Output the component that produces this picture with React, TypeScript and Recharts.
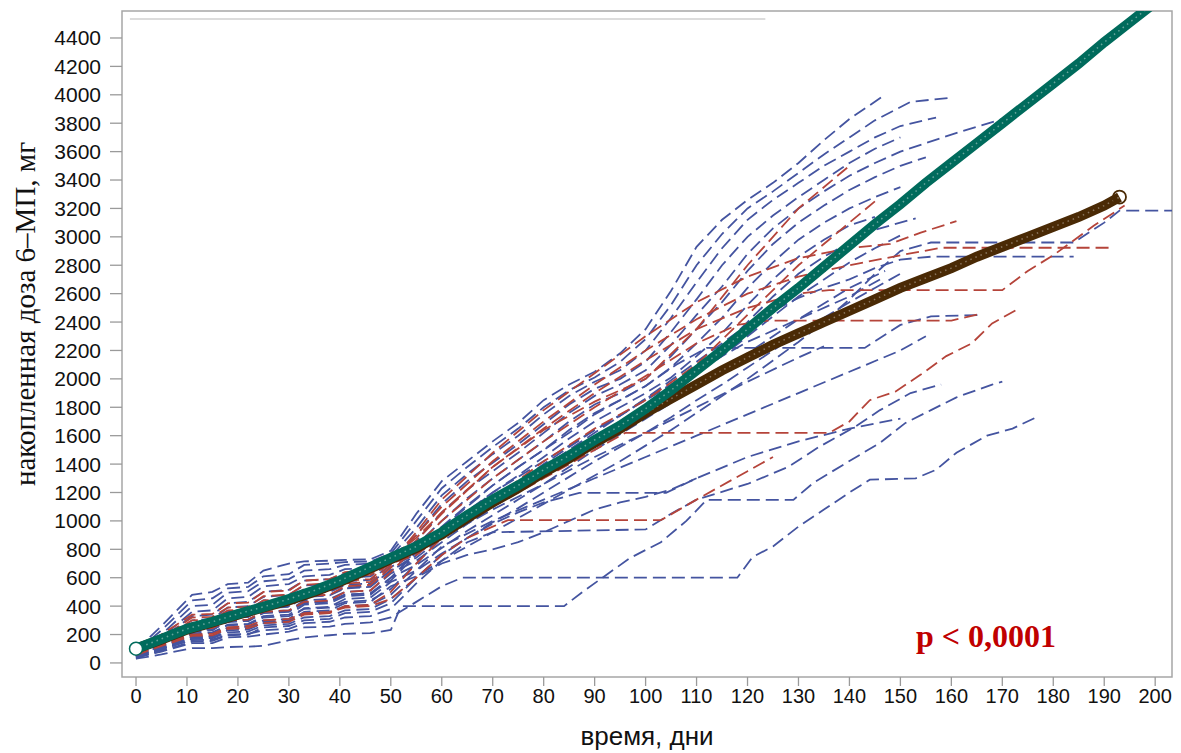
import React from 'react';
import { LineChart, Line, XAxis, YAxis, ReferenceArea, ReferenceLine, Label } from 'recharts';

type Pt = [number, number];

const xTicks = [0, 10, 20, 30, 40, 50, 60, 70, 80, 90, 100, 110, 120, 130, 140, 150, 160, 170, 180, 190, 200];
const yTicks = [0, 200, 400, 600, 800, 1000, 1200, 1400, 1600, 1800, 2000, 2200, 2400, 2600, 2800, 3000, 3200, 3400, 3600, 3800, 4000, 4200, 4400];

// mean curves
const tealMean: Pt[] = [[0,100],[5,170],[10,240],[15,290],[20,345],[25,395],[30,450],[35,510],[40,580],[45,660],[50,740],[55,820],[60,920],[65,1040],[70,1150],[75,1250],[80,1360],[85,1460],[90,1570],[95,1670],[100,1790],[105,1920],[110,2060],[115,2200],[120,2350],[125,2500],[130,2640],[135,2790],[140,2940],[145,3090],[150,3230],[155,3380],[160,3520],[165,3660],[170,3800],[175,3940],[180,4080],[185,4220],[190,4370],[195,4510],[200,4650]];
const brownMean: Pt[] = [[0,100],[5,165],[10,235],[15,285],[20,340],[25,390],[30,440],[35,500],[40,570],[45,650],[50,730],[55,810],[60,905],[65,1020],[70,1130],[75,1230],[80,1340],[85,1440],[90,1550],[95,1650],[100,1760],[105,1860],[110,1960],[115,2060],[120,2150],[125,2240],[130,2320],[135,2400],[140,2480],[145,2560],[150,2640],[155,2710],[160,2780],[165,2860],[170,2930],[175,3000],[180,3070],[185,3140],[190,3220],[193,3280]];

// individual patients (blue)
const b01: Pt[] = [[0,90],[5,260],[11,480],[15,500],[18,555],[22,565],[25,650],[30,700],[33,715],[38,720],[41,725],[46,730],[50,790],[55,1050],[60,1280],[65,1420],[70,1560],[75,1690],[80,1850],[85,1960],[90,2050],[95,2180],[100,2350],[105,2620],[110,2930],[115,3120],[120,3260],[125,3380],[130,3520],[135,3680],[140,3830],[147,4000]];
const b02: Pt[] = [[0,80],[5,230],[11,440],[15,455],[18,525],[22,535],[25,610],[30,625],[33,690],[38,700],[41,710],[46,715],[50,770],[55,1000],[60,1230],[65,1380],[70,1520],[75,1650],[80,1800],[85,1920],[90,2010],[95,2120],[100,2280],[105,2520],[110,2800],[115,3020],[120,3200],[125,3320],[130,3450],[135,3580],[140,3700],[145,3820],[152,3950],[160,3980]];
const b03: Pt[] = [[0,70],[5,200],[11,400],[15,410],[18,495],[22,505],[25,575],[30,590],[33,650],[38,660],[41,690],[46,700],[50,750],[55,950],[60,1180],[65,1330],[70,1470],[75,1600],[80,1750],[85,1880],[90,1980],[95,2060],[100,2200],[105,2430],[110,2680],[115,2920],[120,3120],[125,3260],[130,3380],[135,3500],[140,3600],[145,3700],[150,3780],[157,3840]];
const b04: Pt[] = [[0,60],[5,180],[11,360],[15,370],[18,455],[22,465],[25,540],[30,555],[33,610],[38,620],[41,660],[46,670],[50,735],[55,900],[60,1120],[65,1280],[70,1410],[75,1540],[80,1680],[85,1820],[90,1930],[95,2000],[100,2120],[105,2330],[110,2560],[115,2800],[120,3000],[125,3150],[130,3280],[135,3400],[140,3520],[145,3620],[150,3700]];
const b05: Pt[] = [[0,55],[5,170],[11,330],[15,340],[18,420],[22,430],[25,500],[30,515],[33,580],[38,590],[41,630],[46,640],[50,720],[55,860],[60,1060],[65,1220],[70,1350],[75,1480],[80,1620],[85,1760],[90,1880],[95,1960],[100,2060],[105,2240],[110,2450],[115,2650],[120,2880],[125,3060],[130,3200],[135,3320],[140,3430],[145,3520],[150,3600],[160,3720],[171,3840]];
const b06: Pt[] = [[0,45],[5,155],[11,300],[15,310],[18,390],[22,400],[25,465],[30,480],[33,545],[38,555],[41,600],[46,610],[50,705],[55,830],[60,1000],[65,1160],[70,1300],[75,1430],[80,1560],[85,1700],[90,1820],[95,1900],[100,2000],[105,2160],[110,2350],[115,2540],[120,2760],[125,2950],[130,3100],[135,3220],[140,3330],[145,3420],[150,3500],[155,3560]];
const b07: Pt[] = [[0,40],[5,145],[11,280],[15,290],[18,360],[22,370],[25,440],[30,450],[33,515],[38,525],[41,575],[46,585],[50,690],[55,800],[60,960],[65,1110],[70,1250],[75,1380],[80,1500],[85,1640],[90,1760],[95,1850],[100,1950],[105,2080],[110,2250],[115,2430],[120,2640],[125,2820],[130,2980],[135,3100],[140,3200],[145,3280],[150,3350]];
const b08: Pt[] = [[0,100],[5,140],[11,260],[15,270],[18,335],[22,345],[25,410],[30,420],[33,490],[38,500],[41,550],[46,560],[50,675],[55,770],[60,920],[65,1060],[70,1200],[75,1320],[80,1450],[85,1580],[90,1700],[95,1800],[100,1900],[105,2010],[110,2160],[115,2320],[120,2520],[125,2700],[130,2860],[135,2980],[140,3080],[145,3140]];
const b09: Pt[] = [[0,30],[5,130],[11,240],[15,250],[18,315],[22,325],[25,385],[30,395],[33,465],[38,475],[41,525],[46,535],[50,655],[55,740],[60,880],[65,1020],[70,1150],[75,1270],[80,1400],[85,1520],[90,1640],[95,1740],[100,1860],[105,1960],[110,2080],[115,2220],[120,2400],[125,2580],[130,2740],[135,2860],[140,2960],[145,3050],[153,3130]];
const b10: Pt[] = [[0,60],[5,120],[11,220],[15,230],[18,300],[22,305],[25,360],[30,370],[33,440],[38,450],[41,500],[46,510],[50,630],[55,720],[60,850],[65,980],[70,1100],[75,1210],[80,1320],[85,1440],[90,1560],[95,1680],[100,1800],[105,1920],[110,2040],[115,2160],[120,2300],[125,2440],[130,2580],[135,2700],[140,2820],[145,2920],[150,3010]];
const b11: Pt[] = [[0,50],[5,110],[11,200],[15,210],[18,270],[22,275],[25,330],[30,340],[33,410],[38,420],[41,470],[46,480],[50,600],[55,690],[60,810],[65,930],[70,1040],[75,1150],[80,1260],[85,1380],[90,1500],[95,1610],[100,1720],[105,1830],[110,1950],[115,2060],[120,2180],[125,2300],[130,2420],[135,2530],[140,2640],[147,2760]];
const b12: Pt[] = [[0,45],[5,100],[11,180],[15,185],[18,250],[22,255],[25,300],[30,310],[33,385],[38,395],[41,450],[46,460],[50,570],[55,650],[60,770],[65,880],[70,990],[75,1090],[80,1200],[85,1310],[90,1420],[95,1520],[100,1620],[105,1730],[110,1850],[115,1960],[120,2080],[125,2200],[130,2320],[135,2430],[140,2540],[145,2640],[150,2740]];
const b13: Pt[] = [[0,35],[5,90],[11,170],[15,175],[18,230],[22,235],[25,280],[30,290],[33,360],[38,370],[41,420],[46,430],[50,540],[55,610],[60,720],[65,820],[70,920],[75,1020],[80,1120],[85,1220],[90,1320],[95,1420],[100,1530],[105,1640],[110,1760],[115,1880],[120,2000],[125,2130],[130,2260],[135,2400],[140,2560],[145,2740],[150,2900],[156,2960],[184,2960],[190,3100],[193,3185],[206,3185]];
const b14: Pt[] = [[0,65],[5,150],[11,250],[15,255],[18,320],[22,325],[25,390],[30,400],[33,470],[38,480],[41,530],[46,540],[50,650],[55,760],[60,900],[65,1020],[70,1140],[75,1260],[80,1380],[85,1500],[90,1620],[95,1740],[100,1860],[105,1990],[110,2120],[115,2250],[120,2380],[125,2480],[130,2570],[135,2640],[140,2700],[145,2780],[150,2840],[156,2860],[184,2860]];
const b15: Pt[] = [[0,30],[5,60],[11,105],[15,105],[18,112],[22,115],[25,120],[30,160],[33,180],[38,195],[41,205],[46,210],[50,232],[52,400],[84,400],[88,510],[97,740],[103,850],[108,1000],[112,1148],[129,1148],[133,1270],[139,1400],[146,1550],[151,1690],[156,1780],[161,1870],[168,1960],[170,1980]];
const b16: Pt[] = [[0,40],[5,80],[11,140],[15,140],[18,180],[22,185],[25,200],[30,220],[33,250],[38,255],[41,275],[46,285],[50,320],[55,430],[60,540],[64,600],[118,600],[121,746],[125,820],[130,960],[135,1080],[140,1200],[144,1290],[153,1300],[157,1360],[161,1480],[167,1600],[172,1650],[177,1735]];
const b17: Pt[] = [[0,50],[5,100],[11,160],[15,165],[18,200],[22,205],[25,230],[30,240],[33,280],[38,290],[41,320],[46,330],[50,380],[55,560],[60,720],[65,850],[70,920],[100,940],[105,1050],[110,1150],[120,1260],[128,1380],[134,1520],[141,1660],[146,1780],[152,1900],[158,1960]];
const b18: Pt[] = [[0,55],[5,130],[11,230],[15,235],[18,290],[22,295],[25,350],[30,360],[33,420],[38,430],[41,480],[46,490],[50,600],[55,780],[60,950],[65,1100],[70,1250],[75,1380],[80,1500],[85,1620],[90,1750],[95,1850],[100,1950],[106,2100],[112,2218],[143,2218],[150,2380],[156,2440],[166,2450]];
const b19: Pt[] = [[0,35],[5,85],[11,150],[15,155],[18,195],[22,200],[25,250],[30,260],[33,300],[38,310],[41,350],[46,360],[50,420],[55,600],[60,760],[65,880],[70,980],[75,1060],[80,1130],[87,1197],[104,1197],[110,1300],[120,1450],[130,1560],[140,1650],[150,1720]];
const b20: Pt[] = [[0,40],[5,95],[11,170],[15,175],[18,215],[22,220],[25,265],[30,275],[33,320],[38,330],[41,370],[46,380],[50,450],[55,600],[60,700],[65,760],[70,800],[75,850],[80,920],[85,1000],[90,1080],[95,1130],[100,1170],[105,1220],[110,1300]];
const b21: Pt[] = [[0,45],[5,105],[11,185],[15,190],[18,240],[22,245],[25,290],[30,300],[33,350],[38,360],[41,400],[46,410],[50,480],[55,650],[60,820],[70,1000],[80,1150],[90,1300],[100,1450],[110,1600],[120,1750],[130,1900],[140,2050],[150,2200],[155,2300]];
const b22: Pt[] = [[0,50],[5,115],[11,210],[15,215],[18,265],[22,270],[25,320],[30,330],[33,380],[38,390],[41,430],[46,440],[50,520],[55,700],[60,880],[70,1080],[80,1260],[90,1450],[100,1620],[110,1800],[120,1980],[130,2150],[135,2230]];
const b23: Pt[] = [[0,60],[5,125],[11,235],[15,240],[18,290],[22,295],[25,355],[30,365],[33,425],[38,435],[41,480],[46,490],[50,580],[55,760],[60,940],[70,1200],[80,1420],[90,1640],[100,1850],[110,2060],[120,2260],[130,2420],[140,2580],[146,2700]];

// individual patients (red)
const r01: Pt[] = [[0,60],[5,130],[11,200],[15,205],[18,250],[22,260],[25,300],[30,310],[33,350],[38,360],[41,390],[46,400],[50,450],[55,600],[60,760],[65,880],[70,960],[73,1005],[103,1005],[110,1150],[120,1350],[125,1450]];
const r02: Pt[] = [[0,55],[5,120],[11,190],[15,195],[18,240],[22,245],[25,280],[30,290],[33,340],[38,350],[41,400],[46,410],[50,500],[55,700],[60,880],[70,1100],[80,1300],[90,1500],[96,1620],[136,1620],[140,1700],[144,1850],[149,1910],[154,2030],[159,2160],[164,2250],[168,2390],[173,2490]];
const r03: Pt[] = [[0,65],[5,140],[11,240],[15,245],[18,300],[22,305],[25,360],[30,370],[33,430],[38,440],[41,500],[46,510],[50,640],[55,820],[60,1000],[70,1300],[80,1560],[90,1800],[100,2020],[110,2250],[118,2380],[124,2410],[160,2410],[166,2460]];
const r04: Pt[] = [[0,70],[5,150],[11,260],[15,265],[18,330],[22,335],[25,400],[30,410],[33,470],[38,480],[41,540],[46,550],[50,670],[55,860],[60,1050],[70,1380],[80,1650],[90,1900],[100,2130],[110,2350],[120,2500],[130,2600],[136,2625],[170,2625],[175,2760],[180,2870],[188,3080],[194,3220]];
const r05: Pt[] = [[0,75],[5,160],[11,280],[15,285],[18,350],[22,355],[25,420],[30,430],[33,500],[38,510],[41,560],[46,570],[50,690],[55,900],[60,1100],[70,1420],[80,1700],[90,1960],[100,2200],[110,2420],[120,2600],[130,2720],[140,2800],[150,2870],[158,2923],[192,2923]];
const r06: Pt[] = [[0,80],[5,170],[11,300],[15,305],[18,370],[22,375],[25,440],[30,450],[33,520],[38,530],[41,580],[46,590],[50,710],[55,920],[60,1150],[70,1480],[80,1780],[90,2040],[100,2300],[110,2540],[120,2720],[130,2850],[140,2920],[148,2950],[154,3030],[161,3110]];
const r07: Pt[] = [[0,85],[5,200],[11,340],[15,345],[18,420],[22,425],[25,500],[30,510],[33,580],[38,590],[41,640],[46,650],[50,740],[55,880],[60,1060],[70,1380],[80,1640],[90,1840],[100,2000],[110,2350],[120,2800],[130,3200],[140,3500]];
const r08: Pt[] = [[0,70],[5,175],[11,320],[15,325],[18,390],[22,395],[25,470],[30,480],[33,550],[38,560],[41,610],[46,620],[50,700],[55,760],[60,900],[70,1150],[80,1420],[90,1650],[100,1850],[110,2100],[120,2450],[130,2800],[140,3100],[145,3250]];

const blueCurves = [b01, b02, b03, b04, b05, b06, b07, b08, b09, b10, b11, b12, b13, b14, b15, b16, b17, b18, b19, b20, b21, b22, b23];
const redCurves = [r01, r02, r03, r04, r05, r06, r07, r08];

const topRule: Pt[] = [[-1.2, 4534], [123.5, 4534]];

const X_DOMAIN: [number, number] = [-2.75, 203.3];
const Y_DOMAIN: [number, number] = [-99, 4590];

const BLUE = '#4454a0';
const RED = '#b5443a';
const TEAL = '#006b5c';
const BROWN = '#4a2a05';

const toRows = (pts: Pt[]) => pts.map(([day, dose]) => ({ day, dose }));

const sans = 'Arial, "Liberation Sans", sans-serif';
const serif = '"Times New Roman", "Liberation Serif", serif';

const firstDot = (color: string) => (props: any) => {
  const { cx, cy, index } = props;
  if (index !== 0) return <g key={`d${index}`} />;
  return <circle key={`d${index}`} cx={cx} cy={cy} r={6.5} fill="#fff" stroke={color} strokeWidth={1.5} />;
};
const lastDot = (color: string, n: number) => (props: any) => {
  const { cx, cy, index } = props;
  if (index !== n - 1) return <g key={`d${index}`} />;
  return <circle key={`d${index}`} cx={cx} cy={cy} r={6.5} fill="none" stroke={color} strokeWidth={1.8} />;
};

export default function App() {
  return (
    <div style={{ position: 'relative', width: 1181, height: 753, background: '#fff' }}>
      <style>{`body{margin:0;}`}</style>
      <LineChart width={1181} height={753} margin={{ top: 11, right: 9, left: 0, bottom: 0 }}>
        <XAxis
          dataKey="day"
          type="number"
          domain={X_DOMAIN}
          allowDataOverflow
          ticks={xTicks}
          interval={0}
          height={76}
          tickSize={9}
          tickMargin={3}
          axisLine={false}
          tickLine={{ stroke: '#9a9a9a', strokeWidth: 1.3 }}
          tick={{ fontSize: 20, fill: '#111', fontFamily: sans }}
        >
          <Label value="время, дни" position="insideBottom" offset={8} style={{ fontSize: 26, fill: '#111', fontFamily: sans }} />
        </XAxis>
        <YAxis
          type="number"
          domain={Y_DOMAIN}
          allowDataOverflow
          ticks={yTicks}
          interval={0}
          width={122}
          tickSize={12}
          tickMargin={9}
          axisLine={false}
          tickLine={{ stroke: '#9a9a9a', strokeWidth: 1.3 }}
          tick={{ fontSize: 21, fill: '#111', fontFamily: sans }}
        >
          <Label
            content={(p: any) => {
              const vb = p.viewBox || {};
              const cx = (vb.x || 0) + 25;
              const cy = (vb.y || 0) + (vb.height || 0) / 2 - 30;
              return (
                <text x={cx} y={cy} transform={`rotate(-90 ${cx} ${cy})`} textAnchor="middle" dominantBaseline="central" style={{ fontSize: 29, fill: '#111', fontFamily: serif }}>
                  накопленная доза 6–МП, мг
                </text>
              );
            }}
          />
        </YAxis>
        <ReferenceArea x1={X_DOMAIN[0]} x2={X_DOMAIN[1]} y1={Y_DOMAIN[0]} y2={Y_DOMAIN[1]} fill="none" stroke="#a6a6a6" strokeWidth={1.5} ifOverflow="visible" />
        <ReferenceLine segment={topRule.map(([x, y]) => ({ x, y }))} stroke="#d0d0d0" strokeWidth={1.5} />
        {blueCurves.map((c, i) => (
          <Line key={`b${i}`} data={toRows(c)} dataKey="dose" type="linear" stroke={BLUE} strokeWidth={1.8} strokeDasharray="13 6" dot={false} activeDot={false} isAnimationActive={false} />
        ))}
        {redCurves.map((c, i) => (
          <Line key={`r${i}`} data={toRows(c)} dataKey="dose" type="linear" stroke={RED} strokeWidth={1.8} strokeDasharray="13 6" dot={false} activeDot={false} isAnimationActive={false} />
        ))}
        <Line data={toRows(brownMean)} dataKey="dose" type="linear" stroke={BROWN} strokeWidth={10} dot={lastDot(BROWN, brownMean.length)} activeDot={false} isAnimationActive={false} />
        <Line data={toRows(brownMean)} dataKey="dose" type="linear" stroke="#ffffff" strokeOpacity={0.35} strokeWidth={1.5} strokeDasharray="1.5 4" dot={false} activeDot={false} isAnimationActive={false} />
        <Line data={toRows(tealMean)} dataKey="dose" type="linear" stroke={TEAL} strokeWidth={10} dot={firstDot(TEAL)} activeDot={false} isAnimationActive={false} />
        <Line data={toRows(tealMean)} dataKey="dose" type="linear" stroke="#ffffff" strokeOpacity={0.4} strokeWidth={1.5} strokeDasharray="1.5 4" dot={false} activeDot={false} isAnimationActive={false} />
      </LineChart>
      <div style={{ position: 'absolute', left: 916, top: 618, fontFamily: serif, fontWeight: 'bold', fontSize: 32, color: '#c00000', whiteSpace: 'nowrap' }}>
        p &lt; 0,0001
      </div>
    </div>
  );
}
